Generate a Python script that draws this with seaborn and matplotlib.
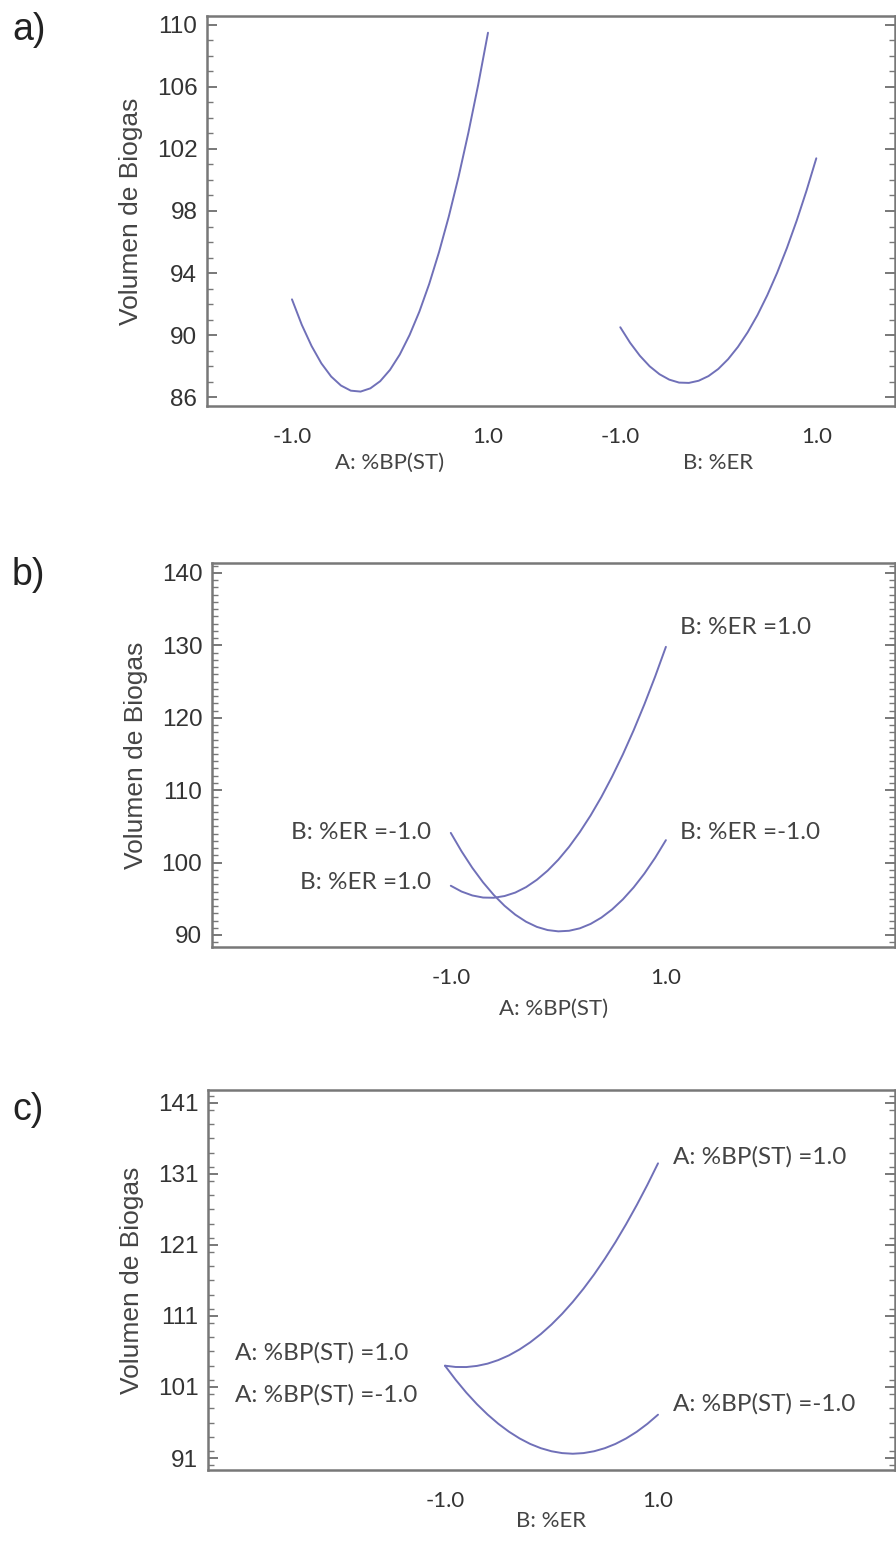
import numpy as np
import pandas as pd
import matplotlib
matplotlib.use("Agg")
import matplotlib.pyplot as plt
from matplotlib.ticker import MultipleLocator
import seaborn as sns

# --- datos (factores codificados -1..1) ---
x_levels = [-1.0, -0.9, -0.8, -0.7, -0.6, -0.5, -0.4, -0.3, -0.2, -0.1, 0.0,
            0.1, 0.2, 0.3, 0.4, 0.5, 0.6, 0.7, 0.8, 0.9, 1.0]

# a) efectos principales
main_A = [92.30, 90.66, 89.29, 88.17, 87.32, 86.74, 86.41, 86.35, 86.56, 87.02, 87.75,
          88.74, 90.00, 91.51, 93.29, 95.34, 97.64, 100.21, 103.05, 106.14, 109.50]
main_B = [90.50, 89.50, 88.66, 87.98, 87.47, 87.12, 86.93, 86.91, 87.05, 87.35, 87.81,
          88.44, 89.23, 90.18, 91.29, 92.57, 94.01, 95.61, 97.38, 99.31, 101.40]

# b) interaccion, eje A, curvas para B = -1 y B = 1
inter_b_Bm1 = [104.10, 101.56, 99.28, 97.27, 95.52, 94.03, 92.80, 91.83, 91.12, 90.68, 90.50,
               90.58, 90.92, 91.53, 92.40, 93.53, 94.92, 96.57, 98.48, 100.66, 103.10]
inter_b_Bp1 = [96.80, 96.00, 95.46, 95.17, 95.14, 95.38, 95.86, 96.61, 97.62, 98.88, 100.40,
               102.18, 104.22, 106.51, 109.06, 111.88, 114.94, 118.27, 121.86, 125.70, 129.80]

# c) interaccion, eje B, curvas para A = 1 y A = -1
inter_c_Ap1 = [104.00, 103.82, 103.81, 103.97, 104.29, 104.79, 105.45, 106.29, 107.29, 108.46, 109.80,
               111.31, 112.99, 114.84, 116.85, 119.04, 121.39, 123.92, 126.61, 129.47, 132.50]
inter_c_Am1 = [104.00, 102.02, 100.21, 98.58, 97.12, 95.83, 94.71, 93.76, 92.98, 92.38, 91.95,
               91.69, 91.60, 91.69, 91.95, 92.38, 92.98, 93.75, 94.69, 95.81, 97.10]

ticks_a = [110, 106, 102, 98, 94, 90, 86]
ticks_b = [140, 130, 120, 110, 100, 90]
ticks_c = [141, 131, 121, 111, 101, 91]

sns.set_theme(style="white")
plt.rcParams['font.family'] = ['Liberation Sans', 'DejaVu Sans']

LINE = '#7070b8'
SPINE = '#787878'
TXT = '#333333'
LAB = '#444444'
HUM = ['Lato', 'DejaVu Sans']

fig = plt.figure(figsize=(8.96, 15.41), dpi=100)
W, H = 896, 1541


def make_ax(left, top, right, bottom):
    return fig.add_axes([left / W, 1 - bottom / H, (right - left) / W, (bottom - top) / H])


def style(ax, ylim, yticks, minor):
    ax.set_ylim(*ylim)
    ax.set_yticks(yticks)
    ax.yaxis.set_minor_locator(MultipleLocator(minor))
    for s in ax.spines.values():
        s.set_color(SPINE)
        s.set_linewidth(1.8)
    ax.tick_params(axis='y', which='both', direction='in', left=True, right=True,
                   colors=SPINE, labelcolor=TXT, labelsize=17.5, pad=7)
    ax.tick_params(axis='y', which='major', length=7, width=1.4)
    ax.tick_params(axis='y', which='minor', length=4, width=1.0)
    ax.tick_params(axis='x', which='both', length=0, labelsize=16, labelcolor=TXT, pad=15)
    ax.set_ylabel('Volumen de Biogas', fontsize=19, color=LAB, labelpad=10)
    ax.grid(False)


kw = dict(fontsize=17.5, color=LAB, family=HUM, va='center')

# ---------- a) ----------
ax1 = make_ax(207, 16, 895, 406)
off_B = 3.35
df_a = pd.DataFrame({
    'u': [x + 1 for x in x_levels] + [x + 1 + off_B for x in x_levels],
    'y': main_A + main_B,
    'factor': ['A'] * len(x_levels) + ['B'] * len(x_levels),
})
sns.lineplot(data=df_a, x='u', y='y', units='factor', estimator=None, color=LINE,
             linewidth=1.4, ax=ax1, legend=False)
ax1.set_xlim(-0.867, 6.153)
ax1.set_xticks([0, 2, off_B, off_B + 2])
ax1.set_xticklabels(['-1.0', '1.0', '-1.0', '1.0'])
ax1.set_xlabel('')
style(ax1, (85.42, 110.58), ticks_a, 1)
for t in ax1.get_xticklabels():
    t.set_family(HUM)
for xc, lab in [(1, 'A: %BP(ST)'), (1 + off_B, 'B: %ER')]:
    ax1.annotate(lab, xy=(xc, 0), xycoords=('data', 'axes fraction'), xytext=(0, -57),
                 textcoords='offset pixels', ha='center', va='center', fontsize=16,
                 color=LAB, family=HUM)

# ---------- b) ----------
ax2 = make_ax(212, 563, 895, 947)
df_b = pd.DataFrame({
    'x': x_levels * 2,
    'y': inter_b_Bm1 + inter_b_Bp1,
    'B': ['-1.0'] * len(x_levels) + ['1.0'] * len(x_levels),
})
sns.lineplot(data=df_b, x='x', y='y', units='B', estimator=None, color=LINE,
             linewidth=1.4, ax=ax2, legend=False)
ax2.set_xlim(-3.22, 3.13)
ax2.set_xticks([-1, 1])
ax2.set_xticklabels(['-1.0', '1.0'])
style(ax2, (88.34, 141.38), ticks_b, 1)
for t in ax2.get_xticklabels():
    t.set_family(HUM)
ax2.set_xlabel('A: %BP(ST)', fontsize=16, color=LAB, family=HUM, labelpad=8)
ax2.text(-1.18, 104.1, 'B: %ER =-1.0', ha='right', **kw)
ax2.text(-1.18, 97.3, 'B: %ER =1.0', ha='right', **kw)
ax2.text(1.13, 132.5, 'B: %ER =1.0', ha='left', **kw)
ax2.text(1.13, 104.1, 'B: %ER =-1.0', ha='left', **kw)

# ---------- c) ----------
ax3 = make_ax(208, 1090, 895, 1470)
df_c = pd.DataFrame({
    'x': x_levels * 2,
    'y': inter_c_Ap1 + inter_c_Am1,
    'A': ['1.0'] * len(x_levels) + ['-1.0'] * len(x_levels),
})
sns.lineplot(data=df_c, x='x', y='y', units='A', estimator=None, color=LINE,
             linewidth=1.4, ax=ax3, legend=False)
ax3.set_xlim(-3.225, 3.225)
ax3.set_xticks([-1, 1])
ax3.set_xticklabels(['-1.0', '1.0'])
style(ax3, (89.31, 142.83), ticks_c, 2)
for t in ax3.get_xticklabels():
    t.set_family(HUM)
ax3.set_xlabel('B: %ER', fontsize=16, color=LAB, family=HUM, labelpad=0)
ax3.text(-2.97, 105.8, 'A: %BP(ST) =1.0', ha='left', **kw)
ax3.text(-2.97, 99.9, 'A: %BP(ST) =-1.0', ha='left', **kw)
ax3.text(1.14, 133.4, 'A: %BP(ST) =1.0', ha='left', **kw)
ax3.text(1.14, 98.7, 'A: %BP(ST) =-1.0', ha='left', **kw)

# panel letters
for lab, yp in [('a)', 30), ('b)', 575), ('c)', 1110)]:
    fig.text(12 / W, 1 - yp / H, lab, fontsize=27, color='#222222', va='center', ha='left')

fig.savefig('out.png', dpi=100, facecolor='white')
